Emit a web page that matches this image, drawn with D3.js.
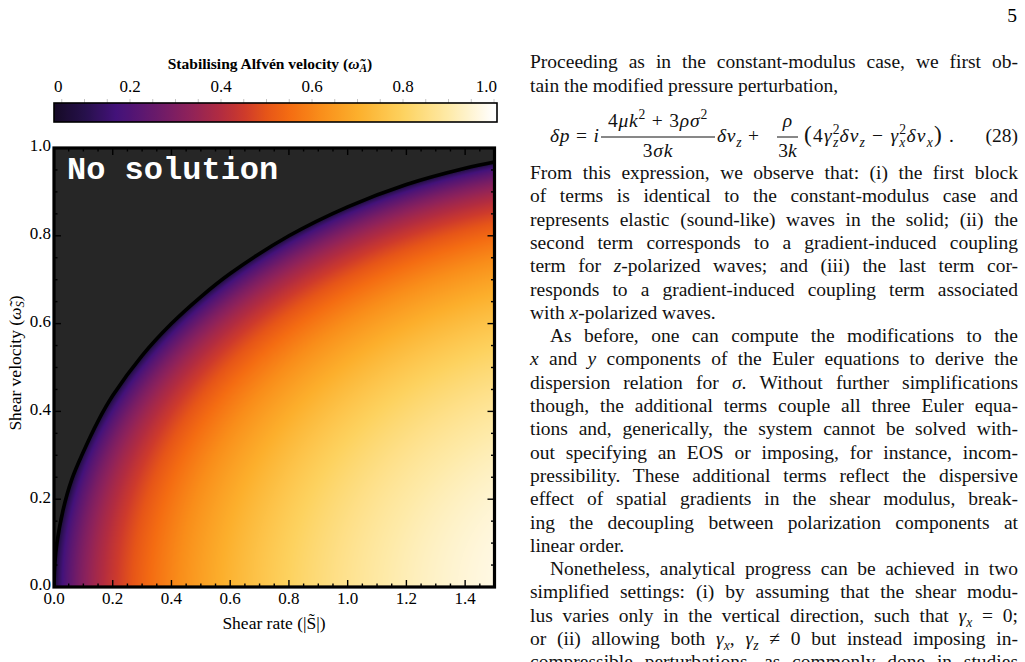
<!DOCTYPE html>
<html><head><meta charset="utf-8">
<script src="https://cdn.jsdelivr.net/npm/d3@7"></script>
<style>
html,body{margin:0;padding:0;background:#fff;}
svg{display:block;}
</style></head><body>
<svg id="fig" width="1025" height="662"></svg>
<script>
// ---------------- data ----------------
const shearRateTicks = [0.0, 0.2, 0.4, 0.6, 0.8, 1.0, 1.2, 1.4];
const shearVelTicks  = [0.0, 0.2, 0.4, 0.6, 0.8, 1.0];
const colorbarTicks  = [0, 0.2, 0.4, 0.6, 0.8, 1.0];
const colorbarLabels = ["0", "0.2", "0.4", "0.6", "0.8", "1.0"];
// black boundary curve (edge of the "No solution" region)
const boundaryRate = [0, 0.003, 0.01, 0.03, 0.06, 0.10, 0.15, 0.20, 0.30, 0.40, 0.50, 0.60, 0.80, 1.00, 1.20, 1.40, 1.50];
const boundaryVel  = [0, 0.055, 0.10, 0.173, 0.244, 0.308, 0.378, 0.436, 0.527, 0.600, 0.661, 0.714, 0.800, 0.866, 0.917, 0.954, 0.968];
// colour map stops
const cmapValues = [0.00, 0.10, 0.17, 0.25, 0.33, 0.40, 0.45, 0.50, 0.55, 0.62, 0.70, 0.80, 0.90, 1.00];
const cmapColors = ["#0d0714", "#26104a", "#43127a", "#66196c", "#8e225a", "#b22c40", "#cd3a2c", "#e65518",
                    "#f46c12", "#f98e1a", "#fcaf2c", "#fdd25f", "#feeaa8", "#ffffff"];
// plotted field: stabilising Alfven velocity, zero on the boundary w_S^2 = |S| - |S|^2/4 (fits the black curve)
function alfvenSq(S, w) { return S - S * S / 4 - w * w; }

// ---------------- text of the page column ----------------
const para1 = ["Proceeding as in the constant-modulus case, we first ob-",
               "tain the modified pressure perturbation,"];
const para2 = ["From this expression, we observe that: (i) the first block",
               "of terms is identical to the constant-modulus case and",
               "represents elastic (sound-like) waves in the solid; (ii) the",
               "second term corresponds to a gradient-induced coupling",
               "term for *z*-polarized waves; and (iii) the last term cor-",
               "responds to a gradient-induced coupling term associated",
               "with *x*-polarized waves."];
const para3 = ["As before, one can compute the modifications to the",
               "*x* and *y* components of the Euler equations to derive the",
               "dispersion relation for *σ*. Without further simplifications",
               "though, the additional terms couple all three Euler equa-",
               "tions and, generically, the system cannot be solved with-",
               "out specifying an EOS or imposing, for instance, incom-",
               "pressibility. These additional terms reflect the dispersive",
               "effect of spatial gradients in the shear modulus, break-",
               "ing the decoupling between polarization components at",
               "linear order."];
const para4 = ["Nonetheless, analytical progress can be achieved in two",
               "simplified settings: (i) by assuming that the shear modu-",
               "lus varies only in the vertical direction, such that *γ*{x} = 0;",
               "or (ii) allowing both *γ*{x}, *γ*{z} ≠ 0 but instead imposing in-",
               "compressible perturbations, as commonly done in studies"];

// ---------------- drawing ----------------
const svg = d3.select("#fig");
const SERIF = "'Liberation Serif', 'Times New Roman', serif";

const x = d3.scaleLinear([0, 1.5], [54, 494.5]);
const y = d3.scaleLinear([0, 1], [587, 148]);
const cbx = d3.scaleLinear([0, 1], [39, 494]);   // colour-bar value axis
const cbLeft = 54, cbRight = 497, cbTop = 103, cbBottom = 122;
const cmap = d3.scaleLinear().domain(cmapValues).range(cmapColors).interpolate(d3.interpolateRgb).clamp(true);
const noSolColor = "#262626";

// heatmap
(function () {
  const x0 = x(0), x1 = x(1.5), yT = y(1), yB = y(0);
  const W = Math.round(x1 - x0), H = Math.round(yB - yT);
  const cv = document.createElement("canvas");
  cv.width = W; cv.height = H;
  const ctx = cv.getContext("2d");
  const img = ctx.createImageData(W, H);
  const ns = d3.rgb(noSolColor);
  for (let py = 0; py < H; py++) {
    const w = y.invert(yT + py + 0.5);
    for (let px = 0; px < W; px++) {
      const S = x.invert(x0 + px + 0.5);
      const v2 = alfvenSq(S, w);
      const c = v2 < 0 ? ns : d3.rgb(cmap(Math.sqrt(v2)));
      const k = 4 * (py * W + px);
      img.data[k] = c.r; img.data[k + 1] = c.g; img.data[k + 2] = c.b; img.data[k + 3] = 255;
    }
  }
  ctx.putImageData(img, 0, 0);
  svg.append("image").attr("x", x0).attr("y", yT).attr("width", W).attr("height", H)
    .attr("preserveAspectRatio", "none").attr("href", cv.toDataURL());
})();

// clip + boundary line
svg.append("clipPath").attr("id", "plotclip").append("rect")
  .attr("x", x(0)).attr("y", y(1)).attr("width", x(1.5) - x(0)).attr("height", y(0) - y(1));
const bpts = boundaryRate.map((s, i) => [s, boundaryVel[i]]);
svg.append("path").attr("clip-path", "url(#plotclip)")
  .attr("d", d3.line().x(d => x(d[0])).y(d => y(d[1])).curve(d3.curveCatmullRom)(bpts))
  .attr("fill", "none").attr("stroke", "#000").attr("stroke-width", 3.6);

// "No solution"
svg.append("text").attr("x", 67).attr("y", 179).text("No solution")
  .attr("font-family", "'Liberation Mono', 'Courier New', monospace").attr("font-weight", "bold")
  .attr("font-size", 32).attr("fill", "#fff");

// ticks (inward, all four sides)
const tk = svg.append("g").attr("stroke", "#000").attr("stroke-width", 1.4);
const isMajor = v => Math.abs(v / 0.2 - Math.round(v / 0.2)) < 1e-6;
d3.range(0, 1.5001, 0.05).forEach(v => {
  const L = isMajor(v) ? 7 : 3.5;
  tk.append("line").attr("x1", x(v)).attr("x2", x(v)).attr("y1", y(0)).attr("y2", y(0) - L);
  tk.append("line").attr("x1", x(v)).attr("x2", x(v)).attr("y1", y(1)).attr("y2", y(1) + L);
});
d3.range(0, 1.0001, 0.05).forEach(v => {
  const L = isMajor(v) ? 7 : 3.5;
  tk.append("line").attr("y1", y(v)).attr("y2", y(v)).attr("x1", x(0)).attr("x2", x(0) + L);
  tk.append("line").attr("y1", y(v)).attr("y2", y(v)).attr("x1", x(1.5)).attr("x2", x(1.5) - L);
});
// frame
svg.append("rect").attr("x", x(0)).attr("y", y(1)).attr("width", x(1.5) - x(0)).attr("height", y(0) - y(1))
  .attr("fill", "none").attr("stroke", "#000").attr("stroke-width", 3.2);

// tick labels
svg.append("g").selectAll("text").data(shearRateTicks).join("text")
  .attr("x", d => x(d)).attr("y", 604).attr("text-anchor", "middle")
  .attr("font-family", SERIF).attr("font-size", 17).text(d => d.toFixed(1));
svg.append("g").selectAll("text").data(shearVelTicks).join("text")
  .attr("x", 51).attr("y", d => y(d)).attr("dy", "0.2em").attr("text-anchor", "end")
  .attr("font-family", SERIF).attr("font-size", 17).text(d => d.toFixed(1));

// axis titles
const xt = svg.append("text").attr("x", 274).attr("y", 629).attr("text-anchor", "middle")
  .attr("font-family", SERIF).attr("font-size", 17.5);
xt.append("tspan").text("Shear rate (|S\u0303|)");
const yt = svg.append("text").attr("transform", "translate(21,363) rotate(-90)").attr("text-anchor", "middle")
  .attr("font-family", SERIF).attr("font-size", 17.5);
yt.append("tspan").text("Shear velocity (");
yt.append("tspan").attr("font-style", "italic").text("\u03C9\u0303");
yt.append("tspan").attr("font-style", "italic").attr("font-size", 12.5).attr("dy", 3).text("S");
yt.append("tspan").attr("dy", -3).text(")");

// colour bar
const grad = svg.append("defs").append("linearGradient").attr("id", "cbgrad")
  .attr("gradientUnits", "userSpaceOnUse").attr("x1", cbLeft).attr("x2", cbRight).attr("y1", 0).attr("y2", 0);
d3.range(0, 101).forEach(i => {
  const px = cbLeft + i / 100 * (cbRight - cbLeft);
  grad.append("stop").attr("offset", i / 100).attr("stop-color", cmap(cbx.invert(px)));
});
svg.append("g").attr("stroke", "#b8b8b8").attr("stroke-width", 0.8)
  .selectAll("line").data(d3.range(0.05, 1.0001, 0.05)).join("line")
  .attr("x1", d => cbx(d)).attr("x2", d => cbx(d)).attr("y1", cbTop - 4).attr("y2", cbTop);
svg.append("rect").attr("x", cbLeft).attr("y", cbTop).attr("width", cbRight - cbLeft).attr("height", cbBottom - cbTop)
  .attr("fill", "url(#cbgrad)").attr("stroke", "#000").attr("stroke-width", 1.6);
svg.append("g").selectAll("text").data(colorbarTicks).join("text")
  .attr("x", (d, i) => i === 0 ? cbLeft : i === colorbarTicks.length - 1 ? cbRight : cbx(d))
  .attr("text-anchor", (d, i) => i === 0 ? "start" : i === colorbarTicks.length - 1 ? "end" : "middle")
  .attr("y", 92).attr("font-family", SERIF).attr("font-size", 17).text((d, i) => colorbarLabels[i]);
const ct = svg.append("text").attr("x", 270).attr("y", 69).attr("text-anchor", "middle")
  .attr("font-family", SERIF).attr("font-size", 15.5).attr("font-weight", "bold");
ct.append("tspan").text("Stabilising Alfvén velocity (");
ct.append("tspan").attr("font-style", "italic").text("\u03C9\u0303");
ct.append("tspan").attr("font-style", "italic").attr("font-size", 11.5).attr("dy", 3).text("A");
ct.append("tspan").attr("dy", -3).text(")");

// ---------------- page text column ----------------
const FS = 19.5, colL = 530, colR = 1018, indent = 20, lead = 23.3;
function rich(t, str, fs) {
  const parts = str.split(/(\*[^*]+\*|\{[^}]+\})/).filter(s => s.length);
  let reset = 0;
  parts.forEach(p => {
    const ts = t.append("tspan");
    if (p[0] === "{") {
      ts.text(p.slice(1, -1)).attr("font-style", "italic").attr("font-size", fs * 0.7).attr("dy", fs * 0.25 - reset);
      reset = fs * 0.25; return;
    }
    if (p[0] === "*") ts.text(p.slice(1, -1)).attr("font-style", "italic"); else ts.text(p);
    if (reset) { ts.attr("dy", -reset); reset = 0; }
  });
}
function textLine(str, xL, yB, justify) {
  const t = svg.append("text").attr("x", xL).attr("y", yB).attr("font-family", SERIF).attr("font-size", FS).attr("fill", "#111");
  rich(t, str, FS);
  if (justify) {
    const len = t.node().getComputedTextLength();
    const spaces = (str.match(/ /g) || []).length;
    if (spaces) t.attr("word-spacing", (colR - xL - len) / spaces);
  }
}
function paragraph(lines, y0, ind, lastJustified) {
  lines.forEach((s, i) => {
    const xL = colL + (i === 0 ? ind : 0);
    textLine(s, xL, y0 + i * lead, i < lines.length - 1 || lastJustified);
  });
}
paragraph(para1, 68.3, 0, false);
paragraph(para2, 179, 0, false);
paragraph(para3, 179 + 7 * lead, indent, false);
paragraph(para4, 179 + 17 * lead, indent, true);

// page number
svg.append("text").attr("x", 1017).attr("y", 22).attr("text-anchor", "end")
  .attr("font-family", SERIF).attr("font-size", FS).text("5");

// equation (28)
function mathText(xp, yp, atoms, anchor, ls) {
  const t = svg.append("text").attr("x", xp).attr("y", yp).attr("font-family", SERIF).attr("font-size", FS)
    .attr("text-anchor", anchor || "start").attr("fill", "#111");
  if (ls) t.attr("letter-spacing", ls);
  let off = 0;
  atoms.forEach(a => {
    const [s, type, back] = a;
    const ts = t.append("tspan").text(s);
    let target = 0;
    if (type === "i") ts.attr("font-style", "italic");
    if (type === "big") ts.attr("font-size", FS * 1.2);
    if (type === "sup") { target = -8.5; ts.attr("font-size", FS * 0.7); }
    if (type === "sub") { target = 5; ts.attr("font-size", FS * 0.7).attr("font-style", "italic"); }
    if (back) ts.attr("dx", -back);
    if (target - off !== 0) ts.attr("dy", target - off);
    off = target;
  });
  return t;
}
const eqY = 142, barY = 137;
mathText(550, eqY, [["δp", "i"], [" = ", "r"], ["i", "i"]], "start", 0.8);
svg.append("line").attr("x1", 601).attr("x2", 715).attr("y1", barY).attr("y2", barY).attr("stroke", "#111").attr("stroke-width", 1);
mathText(658, 127, [["4", "r"], ["μk", "i"], ["2", "sup"], [" + 3", "r"], ["ρσ", "i"], ["2", "sup"]], "middle", 0.8);
mathText(658, 157, [["3", "r"], ["σk", "i"]], "middle", 0.8);
mathText(717, eqY, [["δv", "i"], ["z", "sub"], [" + ", "r"]], "start", 0.8);
svg.append("line").attr("x1", 777).attr("x2", 798).attr("y1", barY).attr("y2", barY).attr("stroke", "#111").attr("stroke-width", 1);
mathText(787.5, 127, [["ρ", "i"]], "middle");
mathText(787.5, 157, [["3", "r"], ["k", "i"]], "middle");
mathText(804, eqY, [["(", "big"], ["4", "r"], ["γ", "i"], ["2", "sup"], ["z", "sub", 8], ["δv", "i"], ["z", "sub"],
  [" − ", "r"], ["γ", "i"], ["2", "sup"], ["x", "sub", 8], ["δv", "i"], ["x", "sub"], [")", "big"], [" .", "r"]], "start", 1.2);
mathText(1018, eqY, [["(28)", "r"]], "end");
</script>
</body></html>
